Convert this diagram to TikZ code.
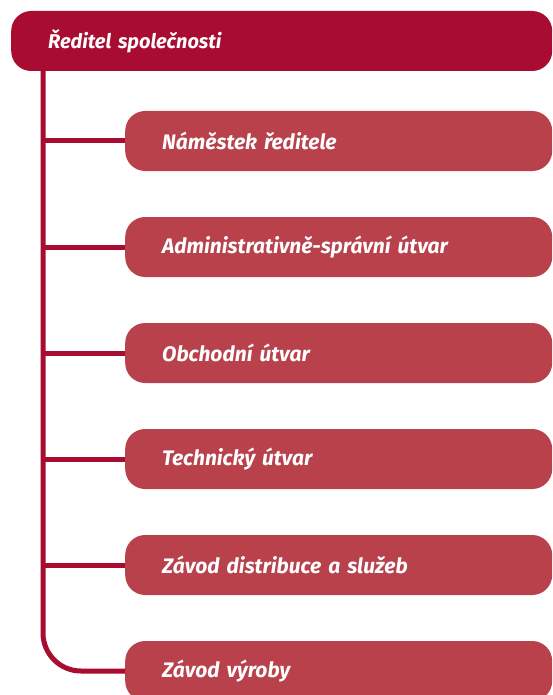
\documentclass[tikz,border=0pt]{standalone}
\usepackage{fontspec}
\setmainfont{Fira Sans}
\begin{document}
\begin{tikzpicture}[x=1pt,y=-1pt,
  topbar/.style={fill=topred, rounded corners=20pt, minimum height=60pt, minimum width=541pt,
    text width=467pt, inner xsep=37pt, inner ysep=0pt, align=left, anchor=west,
    text=white, font=\fontsize{20}{24}\selectfont\bfseries\itshape},
  unitbox/.style={fill=boxred, rounded corners=20pt, minimum height=60pt, minimum width=427pt,
    text width=353pt, inner xsep=37pt, inner ysep=0pt, align=left, anchor=west,
    text=white, font=\fontsize{21}{25}\selectfont\bfseries\itshape},
  link/.style={draw=topred, line width=5pt}]
\definecolor{topred}{HTML}{A80C30}
\definecolor{boxred}{HTML}{B8414B}
\useasboundingbox (0,0) rectangle (552,695);
\clip (0,0) rectangle (552,695);
\node[topbar] (top) at (11,41) {Ředitel společnosti};
\coordinate (trunk) at (43,71);
\node[unitbox] (u1) at (125,141) {Náměstek ředitele};
\node[unitbox] (u2) at (125,247) {Administrativně-správní útvar};
\node[unitbox] (u3) at (125,353) {Obchodní útvar};
\node[unitbox] (u4) at (125,459) {Technický útvar};
\node[unitbox] (u5) at (125,565) {Závod distribuce a služeb};
\node[unitbox] (u6) at (125,671) {Závod výroby};
\foreach \u in {u1,u2,u3,u4,u5}{
  \draw[link] (trunk |- \u.west) -- (\u.west);
}
\draw[link, rounded corners=38pt] (trunk) -- (trunk |- u6.west) -- (u6.west);
\end{tikzpicture}
\end{document}
